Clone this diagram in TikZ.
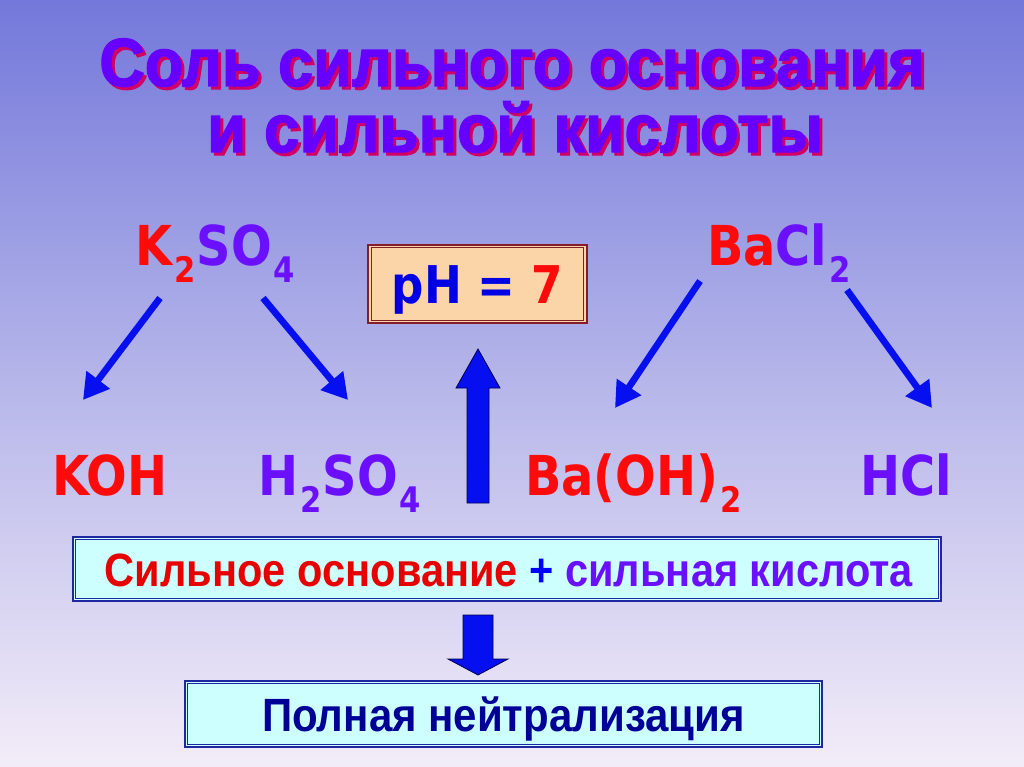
\documentclass[tikz,border=0pt]{standalone}
\usepackage{fontspec}
\usepackage{graphicx}
\usetikzlibrary{arrows.meta}
\newfontfamily\chemfont{DejaVu Sans Bold}[FakeStretch=0.87]
\newfontfamily\ttlfont{Liberation Sans Bold}[FakeBold=2]
\newfontfamily\bxfont{Liberation Sans Bold}
\definecolor{bgtop}{RGB}{116,120,218}
\definecolor{bgmid}{RGB}{182,182,234}
\definecolor{bgbot}{RGB}{243,236,248}
\definecolor{ttlmain}{RGB}{102,0,255}
\definecolor{ttlshadow}{RGB}{210,0,100}
\definecolor{chred}{RGB}{255,10,10}
\definecolor{chpur}{RGB}{106,16,255}
\definecolor{arrblue}{RGB}{5,15,240}
\definecolor{phfill}{RGB}{251,212,168}
\definecolor{phborder}{RGB}{130,30,40}
\definecolor{bxfill}{RGB}{206,255,255}
\definecolor{bxborder}{RGB}{30,40,160}
\definecolor{navy}{RGB}{0,0,150}
\definecolor{bxred}{RGB}{230,0,0}
\newcommand\sbs[1]{\kern1.5pt\raisebox{-0.32em}{\scalebox{0.64}{#1}}\kern1pt}
\newcommand\shadowed[2]{\rlap{\hspace{2.25pt}\raisebox{-2.25pt}{\textcolor{ttlshadow}{\resizebox{#1}{\height}{#2}}}}\textcolor{ttlmain}{\resizebox{#1}{\height}{#2}}}
\tikzset{
  txt/.style={inner sep=0pt, outer sep=0pt, anchor=base},
  txtw/.style={inner sep=0pt, outer sep=0pt, anchor=base west},
  chem/.style={font=\chemfont\fontsize{41.25pt}{48pt}\selectfont},
  ttl/.style={txt, font=\ttlfont\fontsize{51pt}{58pt}\selectfont},
  thinarrow/.style={draw=arrblue, line width=5pt, -{Triangle[length=19pt,width=21pt]}},
  blockarrow/.style={fill=arrblue, draw=black!70!blue, line width=0.6pt, line join=miter},
  phbox/.style={rectangle, fill=phfill, draw=phborder, line width=1.6pt, minimum width=164pt, minimum height=58.5pt, inner sep=0pt},
  bluebox/.style={rectangle, fill=bxfill, draw=bxborder, line width=1.8pt, inner sep=0pt},
  innerline/.style={draw=bxborder, line width=0.7pt},
  phinner/.style={draw=phborder, line width=0.7pt},
  bxtext/.style={txt, font=\bxfont\fontsize{35pt}{42pt}\selectfont}
}
\begin{document}
\begin{tikzpicture}[x=0.75pt,y=-0.75pt]
\useasboundingbox (0,0) rectangle (1024,767);
\shade[top color=bgtop, bottom color=bgbot, middle color=bgmid] (0,0) rectangle (1024,767);

% title
\node[ttl] (t1) at (512,86) {\shadowed{619pt}{Соль сильного основания}};
\node[ttl] (t2) at (515,152) {\shadowed{462pt}{и сильной кислоты}};

% salts
\node[txtw, chem] (k2so4) at (135,265) {\textcolor{chred}{K\sbs{2}}\textcolor{chpur}{SO\sbs{4}}};
\node[txtw, chem] (bacl2) at (707,265) {\textcolor{chred}{Ba}\textcolor{chpur}{Cl\sbs{2}}};

% pH box
\node[phbox] (ph) at (477.5,284) {};
\draw[phinner] ([shift={(4,4)}]ph.north west) rectangle ([shift={(-4,-4)}]ph.south east);
\node[txt, font=\chemfont\fontsize{39pt}{46pt}\selectfont] (phtext) at (477.5,303) {\textcolor{blue!90!black}{pH = }\textcolor{chred}{7}};

% products
\node[txtw, chem, text=chred] (koh) at (52,495) {KOH};
\node[txtw, chem, text=chpur] (h2so4) at (258,495) {H\sbs{2}SO\sbs{4}};
\node[txtw, chem, text=chred] (baoh2) at (525,495) {Ba(OH)\sbs{2}};
\node[txtw, chem, text=chpur] (hcl) at (860,495) {HCl};

% thin arrows
\coordinate (a1s) at (160,298); \coordinate (a1e) at (83,400);
\coordinate (a2s) at (263,298); \coordinate (a2e) at (348,400);
\coordinate (a3s) at (700,281); \coordinate (a3e) at (615,408);
\coordinate (a4s) at (847,290); \coordinate (a4e) at (932,408);
\draw[thinarrow] (a1s) -- (a1e);
\draw[thinarrow] (a2s) -- (a2e);
\draw[thinarrow] (a3s) -- (a3e);
\draw[thinarrow] (a4s) -- (a4e);

% up block arrow
\draw[blockarrow] (467,503) -- (467,388) -- (456,388) -- (478,349) -- (500,388) -- (489,388) -- (489,503) -- cycle;

% box 1
\node[bluebox, minimum width=651pt, minimum height=48pt] (box1) at (507,569) {};
\draw[innerline] ([shift={(4,4)}]box1.north west) rectangle ([shift={(-4,-4)}]box1.south east);
\node[bxtext] (box1text) at (509,586) {\resizebox{606pt}{\height}{\textcolor{bxred}{Сильное основание} \textcolor{blue}{+} \textcolor{chpur}{сильная кислота}}};

% down block arrow
\draw[blockarrow] (463,615) -- (493,615) -- (493,659) -- (508,659) -- (478,675) -- (448,659) -- (463,659) -- cycle;

% box 2
\node[bluebox, minimum width=478pt, minimum height=49.5pt] (box2) at (503.5,714) {};
\draw[innerline] ([shift={(4,4)}]box2.north west) rectangle ([shift={(-4,-4)}]box2.south east);
\node[bxtext, text=navy] (box2text) at (503.5,731) {\resizebox{362pt}{\height}{Полная нейтрализация}};
\end{tikzpicture}
\end{document}
